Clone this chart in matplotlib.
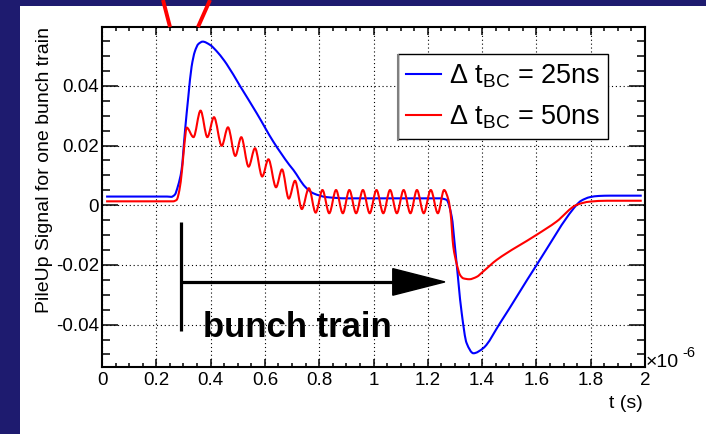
import matplotlib
matplotlib.use("Agg")
import matplotlib.pyplot as plt
from matplotlib.patches import Rectangle, Polygon, PathPatch
from matplotlib.path import Path
from matplotlib.lines import Line2D
from matplotlib.ticker import MultipleLocator, FuncFormatter

plt.rcParams['font.family'] = ['Liberation Sans', 'DejaVu Sans']
plt.rcParams['mathtext.fontset'] = 'custom'
plt.rcParams['mathtext.rm'] = 'Liberation Sans'
plt.rcParams['mathtext.it'] = 'Liberation Sans:italic'
plt.rcParams['axes.unicode_minus'] = False

# pile-up signal, time in units of 1e-6 s
t_25ns = [0.015, 0.240, 0.255, 0.268, 0.280, 0.293, 0.306, 0.318, 0.330, 0.342,
          0.355, 0.371, 0.398, 0.428, 0.459, 0.508, 0.570, 0.631, 0.690, 0.705,
          0.748, 0.778, 0.828, 0.900, 1.245, 1.269, 1.288, 1.300, 1.325, 1.343,
          1.368, 1.404, 1.466, 1.601, 1.748, 1.765, 1.797, 1.830, 1.871, 1.988]
sig_25ns = [0.0029, 0.0029, 0.0028, 0.0035, 0.0065, 0.0118, 0.0252, 0.0364, 0.0464, 0.0515,
            0.0540, 0.0548, 0.0537, 0.0510, 0.0473, 0.0400, 0.0308, 0.0213, 0.0135, 0.0118,
            0.0062, 0.0040, 0.0027, 0.0023, 0.0023, 0.0018, -0.0038, -0.0139, -0.0362, -0.0462,
            -0.0496, -0.0479, -0.0395, -0.0200, 0.0001, 0.0015, 0.0027, 0.0031, 0.0032, 0.0032]

t_50ns = [0.015, 0.262, 0.275, 0.285, 0.295, 0.303, 0.312, 0.337, 0.363, 0.388,
          0.4125, 0.441, 0.464, 0.491, 0.513, 0.540, 0.5635, 0.590, 0.613, 0.641,
          0.663, 0.688, 0.711, 0.736, 0.762, 0.787, 0.812, 0.837, 0.862, 0.887,
          0.911, 0.936, 0.961, 0.986, 1.011, 1.036, 1.061, 1.086, 1.111, 1.136,
          1.160, 1.185, 1.211, 1.237, 1.260, 1.276, 1.284, 1.294, 1.306, 1.319,
          1.331, 1.353, 1.380, 1.404, 1.454, 1.601, 1.674, 1.748, 1.797, 1.860, 1.988]
sig_50ns = [0.0013, 0.0013, 0.0018, 0.0050, 0.0120, 0.0200, 0.0260, 0.0228, 0.0317, 0.0228,
            0.0295, 0.0199, 0.0261, 0.0165, 0.0228, 0.0129, 0.0191, 0.0096, 0.0154, 0.0060,
            0.0120, 0.0022, 0.0082, -0.0013, 0.0057, -0.0025, 0.0051, -0.0027, 0.0051, -0.0027,
            0.0051, -0.0027, 0.0051, -0.0027, 0.0051, -0.0027, 0.0051, -0.0027, 0.0051, -0.0027,
            0.0051, -0.0027, 0.0051, -0.0027, 0.0051, 0.0018, -0.0027, -0.0139, -0.0195, -0.0234,
            -0.0245, -0.0248, -0.0240, -0.0222, -0.0183, -0.0099, -0.0055, 0.0001, 0.0012, 0.0015, 0.0015]

labels = [r'Δ t$_{\mathrm{BC}}$ = 25ns', r'Δ t$_{\mathrm{BC}}$ = 50ns']
colors = ['#0000ff', '#ff0000']


def smooth_path(t, y):
    # cubic Hermite segments through the points, flat at local extrema
    n = len(t)
    m = [0.0] * n
    for i in range(n):
        if i == 0:
            m[i] = (y[1] - y[0]) / (t[1] - t[0])
        elif i == n - 1:
            m[i] = (y[-1] - y[-2]) / (t[-1] - t[-2])
        else:
            d0 = (y[i] - y[i - 1]) / (t[i] - t[i - 1])
            d1 = (y[i + 1] - y[i]) / (t[i + 1] - t[i])
            if d0 * d1 <= 0:
                m[i] = 0.0
            else:
                m[i] = 2 * d0 * d1 / (d0 + d1)
    verts = [(t[0], y[0])]
    codes = [Path.MOVETO]
    for i in range(n - 1):
        h = t[i + 1] - t[i]
        verts += [(t[i] + h / 3, y[i] + m[i] * h / 3),
                  (t[i + 1] - h / 3, y[i + 1] - m[i + 1] * h / 3),
                  (t[i + 1], y[i + 1])]
        codes += [Path.CURVE4] * 3
    return Path(verts, codes)


W, H = 706, 434
fig = plt.figure(figsize=(W / 100, H / 100), dpi=100, facecolor='#1e1b6f')
fig.patches.append(Rectangle((20 / W, 0), 1, 1 - 6 / H, transform=fig.transFigure,
                             facecolor='white', edgecolor='none', zorder=-1))

ax = fig.add_axes([102 / W, 1 - 367 / H, (645 - 102) / W, (367 - 27) / H])
ax.set_xlim(0, 2)
ax.set_ylim(-0.0542, 0.0597)

handles = []
for t, s, c, lab in [(t_25ns, sig_25ns, colors[0], labels[0]), (t_50ns, sig_50ns, colors[1], labels[1])]:
    ax.add_patch(PathPatch(smooth_path(t, s), facecolor='none', edgecolor=c, lw=1.5,
                           joinstyle='round', zorder=3))
    handles.append(Line2D([], [], color=c, lw=1.5, label=lab))

# axes in ROOT style: inward ticks on all four sides, dotted grid
ax.xaxis.set_major_locator(MultipleLocator(0.2))
ax.xaxis.set_minor_locator(MultipleLocator(0.05))
ax.yaxis.set_major_locator(MultipleLocator(0.02))
ax.yaxis.set_minor_locator(MultipleLocator(0.005))
fmt = FuncFormatter(lambda v, p: '%g' % round(v, 6))
ax.xaxis.set_major_formatter(fmt)
ax.yaxis.set_major_formatter(fmt)
ax.tick_params(which='both', direction='in', top=True, right=True, width=1.1, colors='black')
ax.tick_params(axis='x', which='major', length=6, pad=3.5, labelsize=13.5)
ax.tick_params(axis='x', which='minor', length=3)
ax.tick_params(axis='y', which='major', length=11.5, pad=2, labelsize=13.5)
ax.tick_params(axis='y', which='minor', length=6)
for s in ax.spines.values():
    s.set_linewidth(1.5)
ax.grid(True, which='major', color='black', lw=0.8, linestyle=(0, (1, 2.5)))
ax.set_axisbelow(True)

fig.text(45 / W, 1 - 27 / H, 'PileUp Signal for one bunch train', rotation=90,
         ha='center', va='top', fontsize=14)
fig.text(643 / W, 1 - 408 / H, 't (s)', ha='right', va='baseline', fontsize=14)
fig.text(646 / W, 1 - 367 / H, '×10', ha='left', va='baseline', fontsize=14)
fig.text(682 / W, 1 - 357 / H, '-6', ha='left', va='baseline', fontsize=10.5)

# bunch train marker
ax.plot([0.29, 0.29], [-0.0055, -0.0423], color='black', lw=2.3, solid_capstyle='butt', zorder=4)
ax.plot([0.29, 1.08], [-0.0257, -0.0257], color='black', lw=2.3, solid_capstyle='butt', zorder=4)
ax.add_patch(Polygon([[1.071, -0.0257 + 0.00445], [1.263, -0.0257], [1.071, -0.0257 - 0.00445]],
                     closed=True, facecolor='black', edgecolor='black', zorder=4))
ax.text(0.372, -0.0443, 'bunch train', fontsize=25, fontweight='bold', ha='left', va='baseline', zorder=4)

leg = ax.legend(handles=handles, loc='upper left', bbox_to_anchor=(398 / W, 1 - 54 / H),
                bbox_transform=fig.transFigure, fontsize=19.5, fancybox=False, framealpha=1,
                edgecolor='black', borderpad=0.3, handlelength=1.3, handletextpad=0.27,
                labelspacing=0.52, borderaxespad=0)
leg.get_frame().set_linewidth(1.0)
leg.set_zorder(5)
fig.add_artist(Line2D([398 / W, 398 / W], [1 - 55 / H, 1 - 140 / H], transform=fig.transFigure,
                      color='#808080', lw=1.5, zorder=6))

# red strokes along the top edge
for x0, x1 in [(163, 170), (210, 198)]:
    fig.add_artist(Line2D([x0 / W, x1 / W], [1, 1 - 27 / H], transform=fig.transFigure,
                          color='#ff0000', lw=2.8, solid_capstyle='butt', zorder=10))

fig.savefig('out.png', dpi=100, facecolor=fig.get_facecolor())
